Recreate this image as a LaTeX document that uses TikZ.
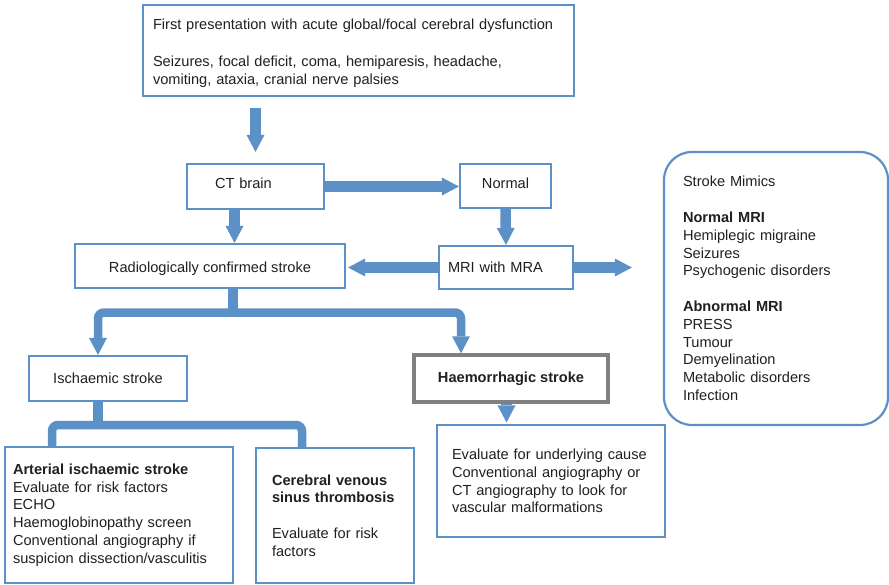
\documentclass[tikz,border=0pt]{standalone}
\usepackage{fontspec}
\setmainfont{Liberation Sans}
\usetikzlibrary{arrows.meta}
\definecolor{flowblue}{RGB}{92,145,199}
\definecolor{framegray}{RGB}{128,128,128}
\definecolor{inkc}{RGB}{35,31,32}
\begin{document}
\begin{tikzpicture}[x=1pt, y=-1pt,
  font=\fontsize{14.6}{17.8}\selectfont, text=inkc,
  box/.style={draw=flowblue, line width=2.2pt, align=left, inner sep=0pt},
  headtip/.tip={Triangle[length=17pt, width=18pt, line width=0pt]},
  fat/.style={draw=flowblue, line width=10.5pt, -headtip},
  bar/.style={draw=flowblue, line width=8.5pt, rounded corners=6pt},
  stem/.style={draw=flowblue, line width=10pt}]

  \fill[white] (0,0) rectangle (889,584);
  \useasboundingbox (0,0) rectangle (889,584);

  % boxes
  \node[box, minimum width=431, minimum height=91, text width=411] (top) at (358.5,50.5)
    {\rule{0pt}{16pt}First presentation with acute global/focal cerebral dysfunction\\[19pt]
     Seizures, focal deficit, coma, hemiparesis, headache,\\
     vomiting, ataxia, cranial nerve palsies};
  \node[box, minimum width=137, minimum height=45, text width=81] (ct) at (255.5,186.5)
    {CT brain\rule[-6pt]{0pt}{0pt}};
  \node[box, minimum width=91, minimum height=44] (normal) at (505.5,186)
    {Normal\rule[-6pt]{0pt}{0pt}};
  \node[box, minimum width=270, minimum height=44] (radio) at (210,266)
    {\rule{0pt}{16pt}Radiologically confirmed stroke};
  \node[box, minimum width=134, minimum height=43, text width=116] (mri) at (506,267.5) {MRI with MRA};
  \node[box, rounded corners=28pt, minimum width=224, minimum height=273, text width=186] (mimics) at (776,288.5)
    {Stroke Mimics\\[17.8pt]
     \textbf{Normal MRI}\\
     Hemiplegic migraine\\
     Seizures\\
     Psychogenic disorders\\[17.8pt]
     \textbf{Abnormal MRI}\\
     PRESS\\
     Tumour\\
     Demyelination\\
     Metabolic disorders\\
     Infection};
  \node[box, minimum width=158, minimum height=45] (isch) at (108,378.5) {Ischaemic stroke};
  \node[box, draw=framegray, line width=3.5pt, minimum width=194, minimum height=47] (haem) at (511,378.5)
    {\textbf{Haemorrhagic stroke}};
  \node[box, minimum width=228, minimum height=136, text width=212] (arterial) at (119,515)
    {\textbf{Arterial ischaemic stroke}\\
     Evaluate for risk factors\\
     ECHO\\
     Haemoglobinopathy screen\\
     Conventional angiography if\\
     suspicion dissection/vasculitis};
  \node[box, minimum width=158, minimum height=135, text width=126] (cerebral) at (335,515.5)
    {\textbf{Cerebral venous}\\
     \textbf{sinus thrombosis}\\[17.8pt]
     Evaluate for risk\\
     factors};
  \node[box, minimum width=228, minimum height=112, text width=198] (evaluate) at (551,481)
    {Evaluate for underlying cause\\
     Conventional angiography or\\
     CT angiography to look for\\
     vascular malformations};

  % straight arrows
  \draw[fat, shorten <=11pt, shorten >=11pt] (ct.north |- top.south) -- (ct.north);
  \draw[fat] (ct.east) -- (ct.east -| normal.west);
  \draw[fat] ([xshift=-21pt]ct.south) -- ([xshift=-21pt]ct.south |- radio.north);
  \draw[fat] (normal.south) -- (mri.north);
  \draw[fat, shorten >=2pt] (mri.west) -- (mri.west -| radio.east);
  \draw[fat, shorten >=31pt] (mri.east) -- (mri.east -| mimics.west);
  \draw[fat, shorten >=1.5pt] ([xshift=-4.5pt]haem.south) -- ([xshift=-4.5pt]haem.south |- evaluate.north);

  % split into ischaemic / haemorrhagic
  \coordinate (forkA) at (233,312.5);
  \draw[stem] (radio.south -| forkA) -- (forkA);
  \draw[bar, headtip-headtip] ([xshift=-10pt]isch.north) |- (forkA) -| ([xshift=-50pt]haem.north);

  % split of ischaemic stroke
  \coordinate (forkB) at (98,425);
  \draw[stem] (isch.south -| forkB) -- (forkB);
  \draw[bar] ([xshift=-67pt]arterial.north) |- (forkB) -| ([xshift=-33pt]cerebral.north);
\end{tikzpicture}
\end{document}
